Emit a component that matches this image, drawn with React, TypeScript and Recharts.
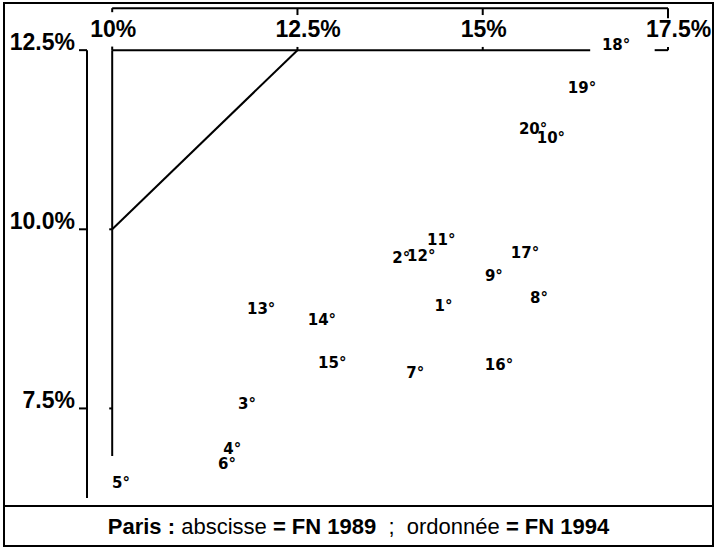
import { ReferenceLine, Scatter, ScatterChart, XAxis, YAxis } from "recharts";

// Paris, FN vote share by arrondissement: 1989 (abscissa) vs 1994 (ordinate)
const arrondissements = [1, 2, 3, 4, 5, 6, 7, 8, 9, 10, 11, 12, 13, 14, 15, 16, 17, 18, 19, 20];
const fn1989 = [14.47, 13.9, 11.82, 11.62, 10.12, 11.55, 14.09, 15.76, 15.15, 15.92, 14.44, 14.17, 12.01, 12.83, 12.97, 15.22, 15.57, 16.8, 16.34, 15.68];
const fn1994 = [8.94, 9.6, 7.57, 6.94, 6.47, 6.73, 8.0, 9.05, 9.36, 11.28, 9.86, 9.64, 8.9, 8.74, 8.14, 8.11, 9.68, 12.58, 11.98, 11.41];

const xTicks = [10, 12.5, 15, 17.5];
const xTickLabels = ["10%", "12.5%", "15%", "17.5%"];
const yTicks = [7.5, 10, 12.5];
const yTickLabels = ["7.5%", "10.0%", "12.5%"];

const points = arrondissements.map((a, i) => ({ name: `${a}°`, x: fn1989[i], y: fn1994[i] }));

const FONT = '"Liberation Sans", Arial, sans-serif';
const INK = "#000";

const X_MIN = 9.66;
const Y_MIN = 6.25;
const Y_MAX = 13.2;
const TOP_Y = 13.086; // bracket line along the top

function XTick(props: any) {
    const { x, y, payload } = props;
    const label = xTickLabels[xTicks.indexOf(payload.value)];
    return (
        <text x={x - 22} y={y} textAnchor="start" fontSize={23} fontWeight="bold" fontFamily={FONT} fill={INK}>
            {label}
        </text>
    );
}

function YTick(props: any) {
    const { x, y, payload } = props;
    const label = yTickLabels[yTicks.indexOf(payload.value)];
    return (
        <text x={x} y={y} textAnchor="end" fontSize={23} fontWeight="bold" fontFamily={FONT} fill={INK}>
            {label}
        </text>
    );
}

function PointLabel(props: any) {
    const { cx, cy, payload } = props;
    return (
        <text
            x={cx}
            y={cy + 5.5}
            textAnchor="middle"
            fontSize={15}
            fontWeight="bold"
            fontFamily='"DejaVu Sans", sans-serif'
            fill={INK}
        >
            {payload.name}
        </text>
    );
}

const line = { stroke: INK, strokeWidth: 2, ifOverflow: "visible" as const };

export default function App() {
    return (
        <div style={{ position: "absolute", left: 0, top: 0, width: 716, height: 549, background: "#fff" }}>
            <ScatterChart width={716} height={549} margin={{ top: 0, right: 48, bottom: 51, left: 7 }}>
                <XAxis
                    type="number"
                    dataKey="x"
                    orientation="top"
                    mirror
                    domain={[X_MIN, 17.5]}
                    ticks={xTicks}
                    height={1}
                    axisLine={false}
                    tickLine={false}
                    tickSize={0}
                    tickMargin={37}
                    tick={<XTick />}
                />
                <YAxis
                    type="number"
                    dataKey="y"
                    domain={[Y_MIN, Y_MAX]}
                    ticks={yTicks}
                    width={80}
                    axisLine={false}
                    tickLine={{ stroke: INK, strokeWidth: 2 }}
                    tickSize={8}
                    tickMargin={4}
                    tick={<YTick />}
                />

                {/* y axis line */}
                <ReferenceLine segment={[{ x: X_MIN, y: Y_MIN }, { x: X_MIN, y: 12.5 }]} {...line} />

                {/* x axis line, interrupted by the 18° label, with small ticks */}
                <ReferenceLine segment={[{ x: 10, y: 12.5 }, { x: 16.45, y: 12.5 }]} {...line} />
                <ReferenceLine segment={[{ x: 17.32, y: 12.5 }, { x: 17.5, y: 12.5 }]} {...line} />
                <ReferenceLine segment={[{ x: 10, y: 12.5 }, { x: 10, y: 12.55 }]} {...line} />
                <ReferenceLine segment={[{ x: 12.5, y: 12.5 }, { x: 12.5, y: 12.545 }]} {...line} />
                <ReferenceLine segment={[{ x: 15, y: 12.5 }, { x: 15, y: 12.545 }]} {...line} />
                <ReferenceLine segment={[{ x: 17.5, y: 12.5 }, { x: 17.5, y: 12.545 }]} {...line} />

                {/* bracket along the top */}
                <ReferenceLine segment={[{ x: 10, y: TOP_Y }, { x: 17.5, y: TOP_Y }]} {...line} />
                <ReferenceLine segment={[{ x: 10, y: TOP_Y }, { x: 10, y: 13.03 }]} {...line} />
                <ReferenceLine segment={[{ x: 12.5, y: TOP_Y }, { x: 12.5, y: 12.99 }]} {...line} />
                <ReferenceLine segment={[{ x: 15, y: TOP_Y }, { x: 15, y: 12.99 }]} {...line} />
                <ReferenceLine segment={[{ x: 17.5, y: TOP_Y }, { x: 17.5, y: 12.946 }]} {...line} />

                {/* inner vertical at 10% with its small ticks */}
                <ReferenceLine segment={[{ x: 10, y: 12.5 }, { x: 10, y: 6.836 }]} {...line} />
                <ReferenceLine segment={[{ x: 9.96, y: 10 }, { x: 10, y: 10 }]} {...line} />
                <ReferenceLine segment={[{ x: 9.96, y: 7.5 }, { x: 10, y: 7.5 }]} {...line} />

                {/* y = x */}
                <ReferenceLine segment={[{ x: 10, y: 10 }, { x: 12.5, y: 12.5 }]} {...line} />

                <Scatter data={points} shape={<PointLabel />} isAnimationActive={false} />
            </ScatterChart>

            <div
                style={{
                    position: "absolute",
                    left: 3,
                    top: 2,
                    width: 711,
                    height: 545,
                    border: "2px solid #000",
                    boxSizing: "border-box",
                    pointerEvents: "none"
                }}
            />
            <div
                style={{
                    position: "absolute",
                    left: 3,
                    top: 505,
                    width: 711,
                    height: 42,
                    borderTop: "2px solid #000",
                    boxSizing: "border-box",
                    display: "flex",
                    alignItems: "center",
                    justifyContent: "center",
                    fontFamily: FONT,
                    fontSize: 22,
                    whiteSpace: "pre",
                    color: INK
                }}
            >
                <b>Paris : </b>
                <span>abscisse </span>
                <b>= FN 1989</b>
                <span>{"  ;  "}</span>
                <span>ordonnée </span>
                <b>= FN 1994</b>
            </div>
        </div>
    );
}
